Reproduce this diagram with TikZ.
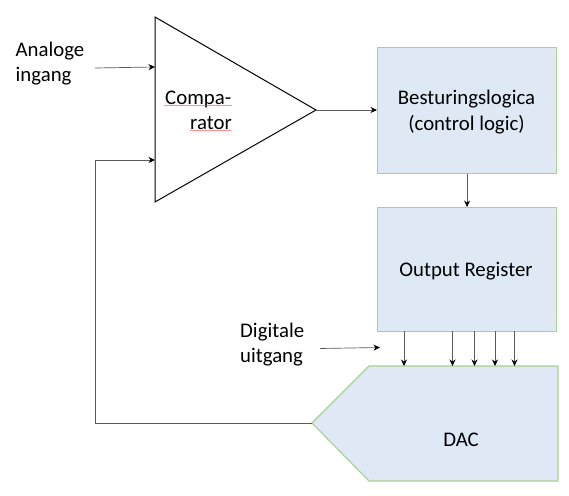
\documentclass[tikz,border=0pt]{standalone}
\usepackage{fontspec}
\setmainfont{Carlito}
\usetikzlibrary{arrows.meta,decorations.pathmorphing}
\definecolor{boxfill}{HTML}{DEE9F5}
\definecolor{boxline}{HTML}{A9D18E}
\definecolor{conn}{HTML}{5A5A5A}
\tikzset{
  x=1pt,y=-1pt,
  txt/.style={font=\fontsize{20.8}{25.3}\selectfont,text=black,inner sep=0pt},
  lbl/.style={txt,align=left,anchor=west},
  blockbox/.style={draw=boxline,fill=boxfill,line width=1.1pt,inner sep=0pt,anchor=north west},
  conline/.style={draw=conn,line width=0.7pt,-{Stealth[length=6.5pt,width=6pt,color=black]}},
  plainline/.style={draw=conn,line width=0.7pt},
  spell/.style={draw=red!70!white,line width=0.45pt,decorate,decoration={snake,amplitude=0.45pt,segment length=3pt}}
}
\begin{document}
\begin{tikzpicture}
\useasboundingbox (0,0) rectangle (569,495);
% comparator
\coordinate (tA) at (155,17);
\coordinate (tB) at (155,202);
\coordinate (tC) at (316,110);
\draw[black,line width=1pt,line join=miter] (tA) -- (tC) -- (tB) -- cycle;
\coordinate (inA) at (155,67);
\coordinate (inB) at (155,160);
\node[lbl,anchor=base west] (cmp) at (165,104) {Compa-};
\node[lbl,anchor=base east] (cmp2) at (232,129) {rator};
\draw[spell] (164,105.5) -- (232,105.5);
\draw[spell] (190,130.5) -- (232,130.5);
% boxes
\node[blockbox,minimum width=179pt,minimum height=126pt] (ctrl) at (377,47) {};
\node[txt,align=center] (ctrltxt) at (466.5,112) {Besturingslogica\\(control logic)};
\node[blockbox,minimum width=179pt,minimum height=124pt] (reg) at (377,207) {};
\node[txt] (regtxt) at (466,271.5) {Output Register};
% DAC
\coordinate (dA) at (369,366);
\coordinate (dB) at (558,366);
\coordinate (dC) at (558,481);
\coordinate (dD) at (369,481);
\coordinate (dE) at (312,423);
\draw[draw=boxline,fill=boxfill,line width=1.1pt] (dA) -- (dB) -- (dC) -- (dD) -- (dE) -- cycle;
\node[txt] (dac) at (461,439.5) {DAC};
% labels
\node[lbl,anchor=north west] (ana) at (15.5,42) {Analoge\\ingang};
\node[lbl,anchor=north west] (dig) at (240,323) {Digitale\\uitgang};
% connectors
\coordinate (anaS) at (95,68);
\draw[conline] (anaS) -- (inA);
\coordinate (fbC) at (95,160);
\coordinate (fbD) at (95,423);
\draw[plainline] (dE) -- (fbD) -- (fbC);
\draw[conline] (fbC) -- (inB);
\coordinate (ctrlIn) at (377,110);
\draw[conline] (tC) -- (ctrlIn);
\draw[conline] (ctrl.south) -- (reg.north);
\coordinate (digS) at (320,348.5);
\coordinate (digE) at (380,347.5);
\draw[conline] (digS) -- (digE);
\foreach \x in {404,452.5,474.5,495,514.5}{
  \draw[conline] (\x,331) -- (\x,366);
}
\end{tikzpicture}
\end{document}
